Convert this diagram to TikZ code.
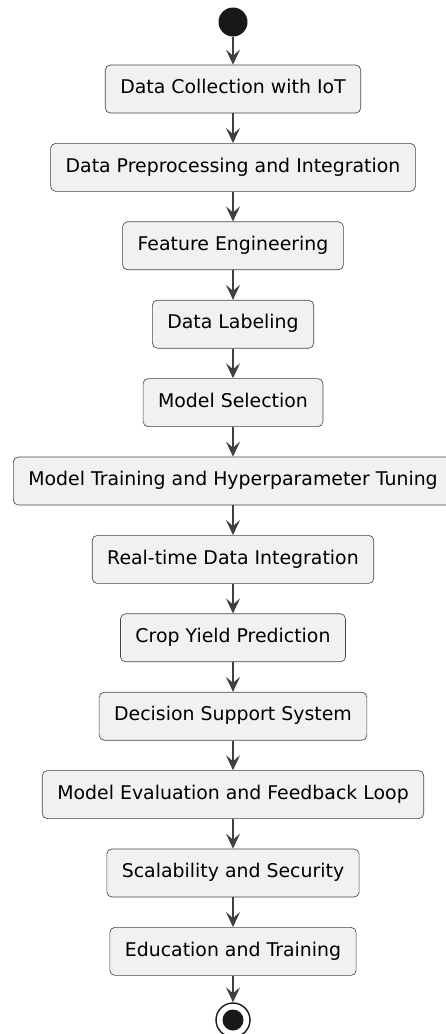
\documentclass[tikz,border=0pt]{standalone}
\usepackage{fontspec}
\setmainfont{DejaVu Sans}
\usetikzlibrary{arrows.meta}
\definecolor{boxfill}{HTML}{F1F1F1}
\definecolor{ink}{HTML}{181818}
\definecolor{flowink}{HTML}{404040}
\begin{document}
\begin{tikzpicture}[x=1pt,y=-1pt,
    step box/.style={draw=ink!80,fill=boxfill,line width=0.65pt,rounded corners=5pt,
        minimum height=48pt,inner xsep=15pt,text height=13.5pt,text depth=4pt,
        font=\fontsize{18.9pt}{22pt}\selectfont},
    flow/.style={draw=flowink,line width=1.4pt,-{Stealth[length=15pt,width=14pt,inset=6pt]}}]
    \useasboundingbox (0,0) rectangle (446,1034);
    \node (start) at (233,22) [circle,fill=ink,minimum size=29pt,inner sep=0pt] {};
    \node (n1) at (233,89) [step box] {Data Collection with IoT};
    \node (n2) at (233,167.4) [step box] {Data Preprocessing and Integration};
    \node (n3) at (233,245.8) [step box] {Feature Engineering};
    \node (n4) at (233,324.2) [step box] {Data Labeling};
    \node (n5) at (233,402.6) [step box] {Model Selection};
    \node (n6) at (233,481) [step box] {Model Training and Hyperparameter Tuning};
    \node (n7) at (233,559.4) [step box] {Real-time Data Integration};
    \node (n8) at (233,637.8) [step box] {Crop Yield Prediction};
    \node (n9) at (233,716.2) [step box] {Decision Support System};
    \node (n10) at (233,794.6) [step box] {Model Evaluation and Feedback Loop};
    \node (n11) at (233,873) [step box] {Scalability and Security};
    \node (n12) at (233,951.4) [step box] {Education and Training};
    \node (stop) at (233,1020) [circle,draw=ink,fill=white,line width=1.4pt,minimum size=34pt,inner sep=0pt] {};
    \fill[ink] (stop.center) circle (10.5);
    \draw[flow] (start) -- (n1);
    \draw[flow] (n1) -- (n2);
    \draw[flow] (n2) -- (n3);
    \draw[flow] (n3) -- (n4);
    \draw[flow] (n4) -- (n5);
    \draw[flow] (n5) -- (n6);
    \draw[flow] (n6) -- (n7);
    \draw[flow] (n7) -- (n8);
    \draw[flow] (n8) -- (n9);
    \draw[flow] (n9) -- (n10);
    \draw[flow] (n10) -- (n11);
    \draw[flow] (n11) -- (n12);
    \draw[flow] (n12) -- (stop);
\end{tikzpicture}
\end{document}
